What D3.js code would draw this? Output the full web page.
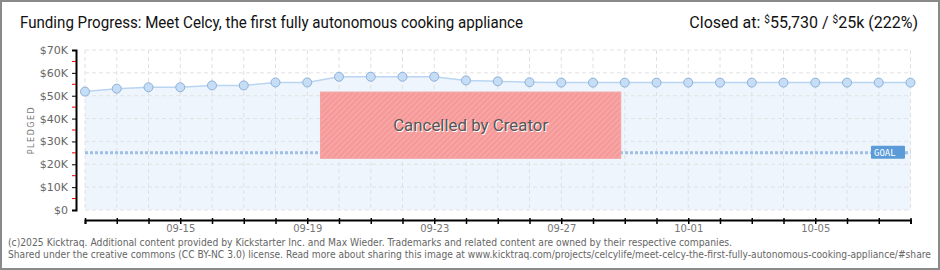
<!DOCTYPE html>
<html>
<head>
<meta charset="utf-8">
<script src="https://cdnjs.cloudflare.com/ajax/libs/d3/7.8.5/d3.min.js"></script>
<style>
  body { margin: 0; background: #fff; }
  svg { display: block; }
</style>
</head>
<body>
<div id="chart"></div>
<script>
var days = ["09-12","09-13","09-14","09-15","09-16","09-17","09-18","09-19","09-20",
            "09-21","09-22","09-23","09-24","09-25","09-26","09-27","09-28","09-29",
            "09-30","10-01","10-02","10-03","10-04","10-05","10-06","10-07","10-08"];
var pledged = [51800, 53100, 53700, 53700, 54500, 54500, 55800, 55800, 58300,
               58300, 58300, 58300, 56700, 56300, 55900, 55730, 55730, 55730,
               55730, 55730, 55730, 55730, 55730, 55730, 55730, 55730, 55730];
var goal = 25000;
var yTicks = [0, 10000, 20000, 30000, 40000, 50000, 60000, 70000];
var xLabels = ["09-15", "09-19", "09-23", "09-27", "10-01", "10-05"];

var W = 940, H = 270;
var parse = function(s) { return d3.timeParse("%Y-%m-%d")("2015-" + s); };
var data = days.map(function(d, i) { return {date: parse(d), value: pledged[i]}; });

var x = d3.scaleTime()
    .domain(d3.extent(data, function(d) { return d.date; }))
    .range([85, 910.5]);
var y = d3.scaleLinear()
    .domain([0, 70000])
    .range([210, 50]);

var svg = d3.select("#chart").append("svg")
    .attr("width", W)
    .attr("height", H);

var defs = svg.append("defs");
var pat = defs.append("pattern")
    .attr("id", "hatch")
    .attr("width", 4).attr("height", 4)
    .attr("patternUnits", "userSpaceOnUse")
    .attr("patternTransform", "rotate(45)");
pat.append("rect").attr("width", 4).attr("height", 4).attr("fill", "#f79797");
pat.append("rect").attr("width", 1.5).attr("height", 4).attr("fill", "#f5abab");

// frame
svg.append("rect")
    .attr("x", 1).attr("y", 1)
    .attr("width", W - 2).attr("height", H - 2)
    .attr("fill", "none")
    .attr("stroke", "#8a8a8a")
    .attr("stroke-width", 2);

// titles
svg.append("text")
    .attr("x", 20).attr("y", 28)
    .attr("font-family", "Roboto, sans-serif")
    .attr("font-size", 16)
    .attr("fill", "#111")
    .attr("textLength", 503)
    .attr("lengthAdjust", "spacingAndGlyphs")
    .text("Funding Progress: Meet Celcy, the first fully autonomous cooking appliance");

var closedAt = svg.append("text")
    .attr("x", 918).attr("y", 28)
    .attr("text-anchor", "end")
    .attr("font-family", "Roboto, sans-serif")
    .attr("font-size", 16)
    .attr("fill", "#111");
closedAt.append("tspan").text("Closed at:  ");
closedAt.append("tspan").attr("font-size", 10).attr("dy", -5).text("$");
closedAt.append("tspan").attr("dy", 5).text("55,730 /  ");
closedAt.append("tspan").attr("font-size", 10).attr("dy", -5).text("$");
closedAt.append("tspan").attr("dy", 5).text("25k (222%)");

var g = svg.append("g");

// area + line
var area = d3.area()
    .x(function(d) { return x(d.date); })
    .y0(y(0))
    .y1(function(d) { return y(d.value); });
var line = d3.line()
    .x(function(d) { return x(d.date); })
    .y(function(d) { return y(d.value); });

g.append("path")
    .datum(data)
    .attr("d", area)
    .attr("fill", "#eef5fd");

// grid
g.selectAll(".vgrid")
    .data(data)
    .enter().append("line")
    .attr("x1", function(d) { return x(d.date); })
    .attr("x2", function(d) { return x(d.date); })
    .attr("y1", y(70000)).attr("y2", y(0))
    .attr("stroke", "#e0e0e0")
    .attr("stroke-dasharray", "4,3");
g.selectAll(".hgrid")
    .data(yTicks)
    .enter().append("line")
    .attr("x1", 85).attr("x2", 910.5)
    .attr("y1", function(d) { return y(d); })
    .attr("y2", function(d) { return y(d); })
    .attr("stroke", "#e2e2e2")
    .attr("stroke-dasharray", "4,3");

g.append("path")
    .datum(data)
    .attr("d", line)
    .attr("fill", "none")
    .attr("stroke", "#b9d5f2")
    .attr("stroke-width", 1.5);

// goal line
g.append("line")
    .attr("x1", 85).attr("x2", 910.5)
    .attr("y1", y(goal)).attr("y2", y(goal))
    .attr("stroke", "#9fc0e4")
    .attr("stroke-width", 3)
    .attr("stroke-dasharray", "3,2");

// dots
g.selectAll(".dot")
    .data(data)
    .enter().append("circle")
    .attr("cx", function(d) { return x(d.date); })
    .attr("cy", function(d) { return y(d.value); })
    .attr("r", 4.5)
    .attr("fill", "#c6ddf6")
    .attr("stroke", "#8eb0d8")
    .attr("stroke-width", 1);

// cancelled box
var bx0 = x(d3.timeHour.offset(parse("09-19"), 10)),
    bx1 = x(d3.timeHour.offset(parse("09-28"), 21)),
    by0 = y(51600), by1 = y(22600);
g.append("rect")
    .attr("x", bx0).attr("y", by0)
    .attr("width", bx1 - bx0).attr("height", by1 - by0)
    .attr("fill", "url(#hatch)")
    .attr("stroke", "#f3a5a5")
    .attr("stroke-width", 1);
g.append("text")
    .attr("x", (bx0 + bx1) / 2 + 1).attr("y", 132)
    .attr("text-anchor", "middle")
    .attr("font-family", "Roboto, sans-serif")
    .attr("font-size", 17)
    .attr("fill", "#fff")
    .attr("textLength", 155)
    .attr("lengthAdjust", "spacingAndGlyphs")
    .text("Cancelled by Creator");
g.append("text")
    .attr("x", (bx0 + bx1) / 2).attr("y", 131)
    .attr("text-anchor", "middle")
    .attr("font-family", "Roboto, sans-serif")
    .attr("font-size", 17)
    .attr("fill", "#555")
    .attr("textLength", 155)
    .attr("lengthAdjust", "spacingAndGlyphs")
    .text("Cancelled by Creator");

// goal label
g.append("rect")
    .attr("x", 871).attr("y", y(goal) - 7)
    .attr("width", 34).attr("height", 13)
    .attr("rx", 1)
    .attr("fill", "#5b9bd8");
g.append("text")
    .attr("x", 874).attr("y", y(goal) + 3.5)
    .attr("font-family", "DejaVu Sans Mono, monospace")
    .attr("font-size", 9)
    .attr("fill", "#fff")
    .text("GOAL");

// y axis
var yAxis = svg.append("g")
    .attr("transform", "translate(76,0)")
    .call(d3.axisLeft(y).tickValues(yTicks).tickSize(4).tickPadding(4)
        .tickFormat(function(d) { return "$" + (d === 0 ? "0" : d / 1000 + "K"); }));
yAxis.select(".domain").attr("stroke", "#000").attr("stroke-width", 2);
yAxis.selectAll("text")
    .attr("font-family", "DejaVu Sans, sans-serif")
    .attr("font-size", 11)
    .attr("fill", "#666");
yAxis.selectAll(".minor")
    .data(d3.range(5000, 70000, 10000))
    .enter().append("line")
    .attr("x1", -4).attr("x2", 0)
    .attr("y1", function(d) { return y(d); })
    .attr("y2", function(d) { return y(d); })
    .attr("stroke", "#e00000");

svg.append("text")
    .attr("transform", "translate(34,130) rotate(-90)")
    .attr("text-anchor", "middle")
    .attr("font-family", "DejaVu Sans, sans-serif")
    .attr("font-size", 8)
    .attr("letter-spacing", 1.5)
    .attr("fill", "#777")
    .text("PLEDGED");

// x axis
var xAxis = svg.append("g")
    .attr("transform", "translate(0,220)")
    .call(d3.axisBottom(x).tickValues(data.map(function(d) { return d.date; }))
        .tickSize(4).tickSizeOuter(4)
        .tickFormat(function(d) {
          var s = d3.timeFormat("%m-%d")(d);
          return xLabels.indexOf(s) >= 0 ? s : "";
        }));
xAxis.select(".domain").attr("stroke", "#000").attr("stroke-width", 2);
xAxis.selectAll(".tick line").attr("y1", -2).attr("stroke-width", 1.5);
xAxis.selectAll("text")
    .attr("font-family", "DejaVu Sans, sans-serif")
    .attr("font-size", 10)
    .attr("fill", "#777")
    .attr("dy", "0.5em");

// footer, squeezed horizontally to fit inside the frame
var foot = [
  "(c)2025 Kicktraq. Additional content provided by Kickstarter Inc. and Max Wieder. Trademarks and related content are owned by their respective companies.",
  "Shared under the creative commons (CC BY-NC 3.0) license. Read more about sharing this image at www.kicktraq.com/projects/celcylife/meet-celcy-the-first-fully-autonomous-cooking-appliance/#share"
];
var footW = [725, 924];
svg.selectAll(".foot")
    .data(foot)
    .enter().append("text")
    .attr("class", "foot")
    .attr("font-family", "DejaVu Sans, sans-serif")
    .attr("font-size", 10)
    .attr("fill", "#666")
    .text(function(d) { return d; })
    .attr("transform", function(d, i) {
      var len = this.getComputedTextLength();
      return "translate(8," + (246 + i * 12) + ") scale(" + (footW[i] / len) + ",1)";
    });
</script>
</body>
</html>
